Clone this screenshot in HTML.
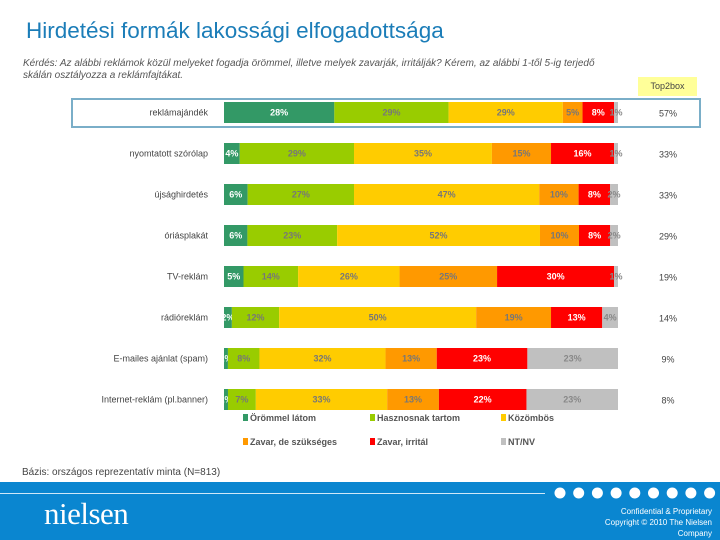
<!DOCTYPE html>
<html><head><meta charset="utf-8">
<style>
body{margin:0;width:720px;height:540px;position:relative;overflow:hidden;background:#fff;font-family:"Liberation Sans",sans-serif}
.abs{position:absolute}
</style></head><body>
<div class="abs" style="left:26px;top:18px;font-size:22.5px;color:#1b7db8;">Hirdetési formák lakossági elfogadottsága</div>
<div class="abs" style="left:23px;top:58px;font-size:10px;font-style:italic;color:#555;line-height:12px;width:600px">Kérdés: Az alábbi reklámok közül melyeket fogadja örömmel, illetve melyek zavarják, irritálják? Kérem, az alábbi 1-től 5-ig terjedő skálán osztályozza a reklámfajtákat.</div>
<div class="abs" style="left:638px;top:77px;width:59px;height:19px;background:#ffff99;font-size:9px;color:#444;text-align:center;line-height:19px">Top2box</div>
<div class="abs" style="left:71px;top:98px;width:626px;height:26px;border:2px solid #7aaec8;"></div>
<svg class="abs" style="left:0;top:0" width="720" height="480" id="chart"></svg>
<div class="abs" style="left:22px;top:467px;font-size:10px;color:#444">Bázis: országos reprezentatív minta (N=813)</div>
<div class="abs" style="left:0;top:482px;width:720px;height:58px;background:#0a86d0">
  <div class="abs" style="left:0;top:11px;width:545px;height:1px;background:#cfe8f8"></div>
  <div class="abs" style="left:44px;top:14px;font-family:'Liberation Serif',serif;font-size:31px;color:#fff;letter-spacing:-0.5px">nielsen</div>
  <div class="abs" style="right:8px;top:24px;font-size:8px;color:#fff;text-align:right;line-height:11px">Confidential &amp; Proprietary<br>Copyright © 2010 The Nielsen<br>Company</div>
</div>
<svg class="abs" style="left:0;top:482px" width="720" height="58" id="dots"></svg>
<script>
const categories=["reklámajándék","nyomtatott szórólap","újsághirdetés","óriásplakát","TV-reklám","rádióreklám","E-mailes ajánlat (spam)","Internet-reklám (pl.banner)"];
const s1=[28,4,6,6,5,2,1,1];
const s2=[29,29,27,23,14,12,8,7];
const s3=[29,35,47,52,26,50,32,33];
const s4=[5,15,10,10,25,19,13,13];
const s5=[8,16,8,8,30,13,23,22];
const s6=[1,1,2,2,1,4,23,23];
const top2box=["57%","33%","33%","29%","19%","14%","9%","8%"];
const seriesNames=["Örömmel látom","Hasznosnak tartom","Közömbös","Zavar, de szükséges","Zavar, irritál","NT/NV"];
const colors=["#339966","#99cc00","#ffcc00","#ff9900","#ff0000","#c0c0c0"];
const textCol=["#fff","#777","#777","#777","#fff","#888"];
const NS="http://www.w3.org/2000/svg";
const svg=document.getElementById('chart');
const x0=224,x1=618,y0=102,step=41,bh=21;
const xs=v=>v/100*(x1-x0);
const ys=i=>y0+i*step;
const all=[s1,s2,s3,s4,s5,s6];
categories.forEach((c,i)=>{
  const t=document.createElementNS(NS,'text');
  
  
  t.setAttribute('x',208);t.setAttribute('y',ys(i)+bh/2+3);
  t.setAttribute('text-anchor','end');t.setAttribute('font-size','9');t.setAttribute('fill','#444');
  t.textContent=c;svg.appendChild(t);
  const sum=all.reduce((a,s)=>a+s[i],0);
  let acc=0;
  all.forEach((s,k)=>{
    const w=xs(s[i]*100/sum),x=x0+xs(acc*100/sum);
    const r=document.createElementNS(NS,'rect');
    
    
    r.setAttribute('x',x);r.setAttribute('y',ys(i));r.setAttribute('width',w);r.setAttribute('height',bh);r.setAttribute('fill',colors[k]);
    svg.appendChild(r);
    const l=document.createElementNS(NS,'text');
    
    
    l.setAttribute('x',x+w/2);l.setAttribute('y',ys(i)+bh/2+3);l.setAttribute('text-anchor','middle');
    l.setAttribute('font-size','9');l.setAttribute('font-weight','bold');l.setAttribute('fill',textCol[k]);
    l.textContent=s[i]+'%';svg.appendChild(l);
    acc+=s[i];
  });
  const v=document.createElementNS(NS,'text');
  
  
  v.setAttribute('x',668);v.setAttribute('y',ys(i)+bh/2+4);v.setAttribute('text-anchor','middle');
  v.setAttribute('font-size','9');v.setAttribute('fill','#444');v.textContent=top2box[i];svg.appendChild(v);
});
seriesNames.forEach((n,k)=>{
  const lx=[250,377,508][k%3],ly=k<3?421:445;
  const r=document.createElementNS(NS,'rect');
  
  
  r.setAttribute('x',lx-7);r.setAttribute('y',ly-7);r.setAttribute('width',5);r.setAttribute('height',7);r.setAttribute('fill',colors[k]);svg.appendChild(r);
  const t=document.createElementNS(NS,'text');
  
  
  t.setAttribute('x',lx);t.setAttribute('y',ly);t.setAttribute('font-size','9');t.setAttribute('font-weight','bold');t.setAttribute('fill','#555');
  t.textContent=n;svg.appendChild(t);
});
const d=document.getElementById('dots');
for(let i=0;i<9;i++){
  const c=document.createElementNS(NS,'circle');
  
  
  c.setAttribute('cx',560+i*18.7);c.setAttribute('cy',11);c.setAttribute('r',5.5);c.setAttribute('fill','#fff');d.appendChild(c);
}
</script>
</body></html>
